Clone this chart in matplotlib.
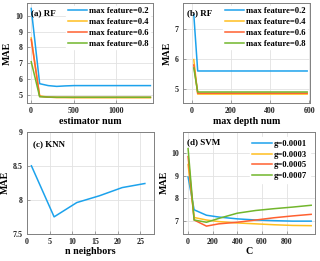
import matplotlib
matplotlib.use("Agg")
import matplotlib.pyplot as plt

plt.rcParams['font.family'] = ['Liberation Serif', 'DejaVu Serif']
plt.rcParams['font.weight'] = 'bold'

# ---- data ----
rf_est_x = [1, 100, 200, 300, 400, 500, 600, 700, 800, 900, 1000, 1100, 1200, 1300, 1400]
rf_est_02 = [10.45, 5.72, 5.6, 5.55, 5.58, 5.6, 5.6, 5.6, 5.6, 5.6, 5.6, 5.6, 5.6, 5.6, 5.6]
rf_est_04 = [8.6, 4.95, 4.88, 4.85, 4.85, 4.84, 4.84, 4.84, 4.84, 4.84, 4.84, 4.84, 4.84, 4.84, 4.84]
rf_est_06 = [8.5, 4.92, 4.87, 4.86, 4.86, 4.86, 4.86, 4.86, 4.86, 4.86, 4.86, 4.86, 4.86, 4.86, 4.86]
rf_est_08 = [7.1, 4.9, 4.88, 4.87, 4.87, 4.87, 4.87, 4.87, 4.87, 4.87, 4.87, 4.87, 4.87, 4.87, 4.87]

rf_depth_x = [10, 30, 50, 100, 200, 300, 400, 500, 590]
rf_depth_02 = [7.48, 5.6, 5.6, 5.6, 5.6, 5.6, 5.6, 5.6, 5.6]
rf_depth_04 = [5.98, 4.83, 4.83, 4.83, 4.83, 4.83, 4.83, 4.83, 4.83]
rf_depth_06 = [5.8, 4.86, 4.86, 4.86, 4.86, 4.86, 4.86, 4.86, 4.86]
rf_depth_08 = [5.7, 4.9, 4.9, 4.9, 4.9, 4.9, 4.9, 4.9, 4.9]

rf_labels = ['max feature=0.2', 'max feature=0.4', 'max feature=0.6', 'max feature=0.8']

knn_x = [1, 6, 11, 16, 21, 26]
knn_mae = [8.5, 7.75, 7.96, 8.06, 8.18, 8.24]

svm_c = [1, 50, 150, 250, 400, 550, 700, 850, 1000]
svm_g1 = [8.95, 7.5, 7.26, 7.18, 7.1, 7.05, 7.02, 7.0, 7.0]
svm_g3 = [9.5, 7.16, 7.05, 6.98, 6.92, 6.88, 6.84, 6.81, 6.8]
svm_g5 = [9.85, 7.05, 6.78, 6.88, 6.95, 7.05, 7.15, 7.23, 7.3]
svm_g7 = [10.2, 7.05, 6.95, 7.12, 7.35, 7.47, 7.55, 7.62, 7.7]
svm_labels = ['g=0.0001', 'g=0.0003', 'g=0.0005', 'g=0.0007']

colors = ['#1CA2EC', '#FFBF1F', '#FF6030', '#72B62C']

fig = plt.figure(figsize=(3.2, 2.61), dpi=100)

def style(ax):
    ax.grid(True, color='#E2E2E2', lw=0.6)
    ax.set_axisbelow(True)
    for s in ax.spines.values():
        s.set_color('#808080')
        s.set_linewidth(0.7)
    ax.tick_params(direction='in', length=2, width=0.5, colors='#808080',
                   labelsize=5.7, labelcolor='#222222', pad=3)
    for lab in ax.get_xticklabels() + ax.get_yticklabels():
        lab.set_fontweight('bold')

def add_legend(ax):
    ax.legend(loc='upper right', frameon=True, edgecolor='white', framealpha=1,
              fancybox=False, handlelength=2.3, handletextpad=0.2, labelspacing=0.32,
              borderpad=0.15, borderaxespad=0.35, prop={'weight': 'bold', 'size': 6.2})

lw = 1.1
tfs = 6.5
lfs = 7.2

# (a)
axa = fig.add_axes([0.084, 0.605, 0.394, 0.384])
for y, c, l in zip([rf_est_02, rf_est_04, rf_est_06, rf_est_08], colors, rf_labels):
    axa.plot(rf_est_x, y, color=c, lw=lw, label=l)
axa.set_xlim(-50, 1430)
axa.set_ylim(4.5, 10.8)
axa.set_xticks([0, 500, 1000])
axa.set_yticks([5, 6, 7, 8, 9, 10])
axa.set_xlabel('estimator num', fontsize=lfs, fontweight='bold', labelpad=1)
axa.set_ylabel('MAE', fontsize=lfs, fontweight='bold', labelpad=2)
axa.text(0.03, 0.9, '(a) RF', transform=axa.transAxes, fontsize=tfs, fontweight='bold', va='center')
add_legend(axa)
style(axa)

# (b)
axb = fig.add_axes([0.572, 0.605, 0.397, 0.384])
for y, c, l in zip([rf_depth_02, rf_depth_04, rf_depth_06, rf_depth_08], colors, rf_labels):
    axb.plot(rf_depth_x, y, color=c, lw=lw, label=l)
axb.set_xlim(-45, 605)
axb.set_ylim(4.53, 7.87)
axb.set_xticks([0, 200, 400, 600])
axb.set_yticks([5, 6, 7])
axb.set_xlabel('max depth num', fontsize=lfs, fontweight='bold', labelpad=1)
axb.set_ylabel('MAE', fontsize=lfs, fontweight='bold', labelpad=2)
axb.text(0.03, 0.9, '(b) RF', transform=axb.transAxes, fontsize=tfs, fontweight='bold', va='center')
add_legend(axb)
style(axb)

# (c)
axc = fig.add_axes([0.084, 0.104, 0.397, 0.391])
axc.plot(knn_x, knn_mae, color=colors[0], lw=lw)
axc.set_xlim(0, 28)
axc.set_ylim(7.5, 9)
axc.set_xticks([0, 5, 10, 15, 20, 25])
axc.set_yticks([7.5, 8, 8.5, 9])
axc.set_yticklabels(['7.5', '8', '8.5', '9'])
axc.set_xlabel('n neighbors', fontsize=lfs, fontweight='bold', labelpad=1)
axc.set_ylabel('MAE', fontsize=lfs, fontweight='bold', labelpad=2)
axc.text(0.05, 0.88, '(c) KNN', transform=axc.transAxes, fontsize=tfs, fontweight='bold', va='center')
style(axc)

# (d)
axd = fig.add_axes([0.572, 0.105, 0.412, 0.389])
for y, c, l in zip([svm_g1, svm_g3, svm_g5, svm_g7], colors, svm_labels):
    axd.plot(svm_c, y, color=c, lw=lw, label=l)
axd.set_xlim(-40, 1030)
axd.set_ylim(6.45, 10.93)
axd.set_xticks([0, 200, 400, 600, 800])
axd.set_yticks([7, 8, 9, 10])
axd.set_xlabel('C', fontsize=lfs, fontweight='bold', labelpad=1)
axd.set_ylabel('MAE', fontsize=lfs, fontweight='bold', labelpad=2)
axd.text(0.03, 0.9, '(d) SVM', transform=axd.transAxes, fontsize=tfs, fontweight='bold', va='center')
axd.legend(loc='upper right', frameon=True, edgecolor='white', framealpha=1,
           fancybox=False, handlelength=2.3, handletextpad=0.2, labelspacing=0.32,
           borderpad=0.3, borderaxespad=0.6, prop={'weight': 'bold', 'size': 6.2})
style(axd)

fig.savefig('out.png', dpi=100)
